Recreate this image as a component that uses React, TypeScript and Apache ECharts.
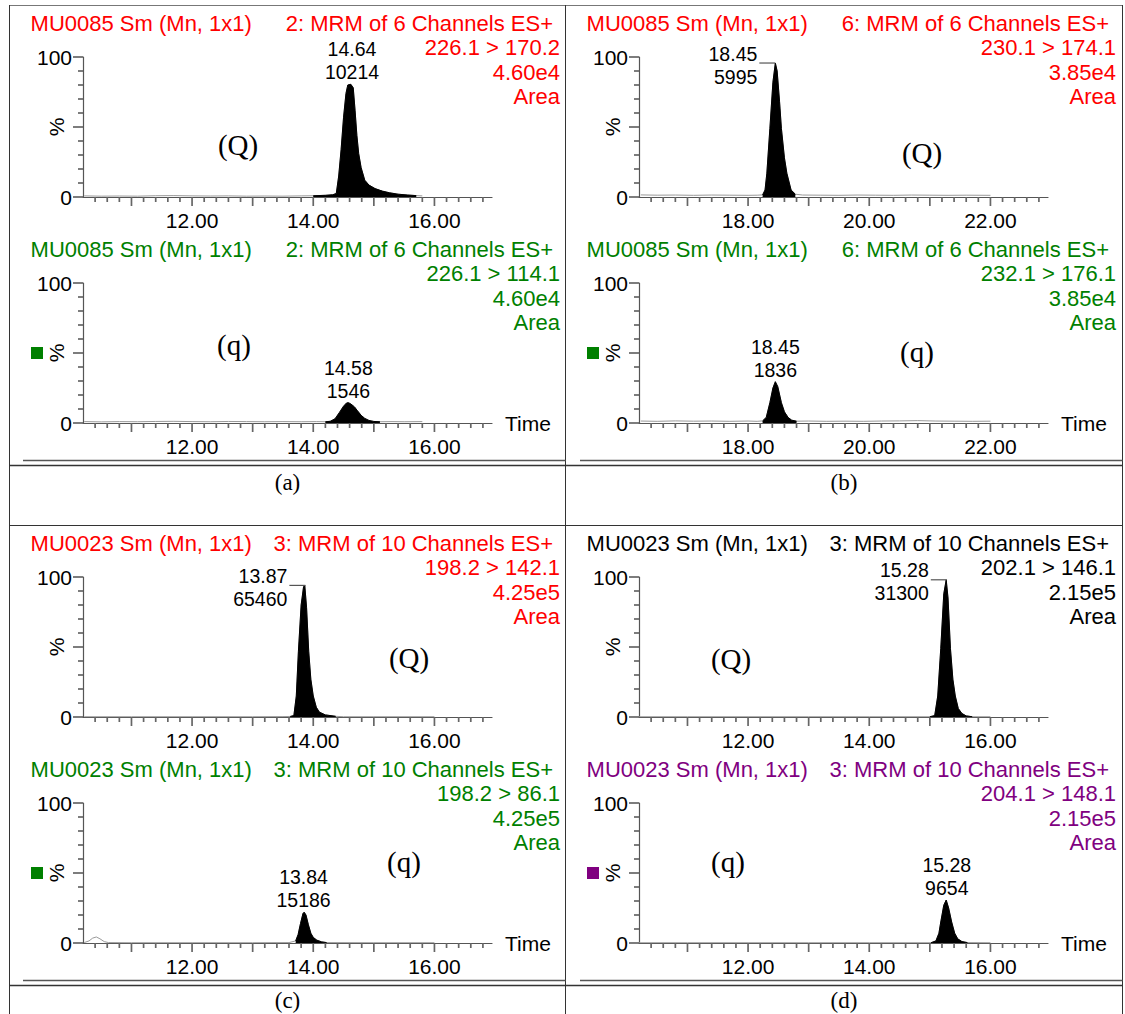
import React, { useEffect, useRef } from "react";
import * as echarts from "echarts";

type Pt = [number, number];

// ---------------- DATA ----------------
const RED = "#ff0000";
const GREEN = "#008000";
const PURPLE = "#800080";
const BLACK = "#000000";

// x-axis ranges (minutes)
const xRangeLow: [number, number] = [10.2, 16.95];
const xRangeHigh: [number, number] = [16.2, 22.95];
const majorTicksLow = [11, 12, 13, 14, 15, 16];
const majorTicksHigh = [17, 18, 19, 20, 21, 22];
const minorTicksLow = [
  10.4, 10.6, 10.8, 11.2, 11.4, 11.6, 11.8, 12.2, 12.4, 12.6, 12.8, 13.2, 13.4, 13.6, 13.8,
  14.2, 14.4, 14.6, 14.8, 15.2, 15.4, 15.6, 15.8, 16.2, 16.4, 16.6, 16.8,
];
const minorTicksHigh = [
  16.4, 16.6, 16.8, 17.2, 17.4, 17.6, 17.8, 18.2, 18.4, 18.6, 18.8, 19.2, 19.4, 19.6, 19.8,
  20.2, 20.4, 20.6, 20.8, 21.2, 21.4, 21.6, 21.8, 22.2, 22.4, 22.6, 22.8,
];
const tickLabelsLow = [12, 14, 16];
const tickLabelsHigh = [18, 20, 22];
const yMajorTicks = [0, 50, 100];
const yMinorTicks = [10, 20, 30, 40, 60, 70, 80, 90];
const yTickLabels = [0, 100];
const captions = ["(a)", "(b)", "(c)", "(d)"];

// (a) Q
const aQTitle = ["MU0085 Sm (Mn, 1x1)", "2: MRM of 6 Channels ES+", "226.1 > 170.2", "4.60e4", "Area"];
const aQTrace: Pt[] = [
  [10.22, 0.8], [10.5, 0.6], [10.8, 0.7], [11.1, 0.6], [11.4, 0.9], [11.7, 1.0], [12.0, 0.8], [12.3, 0.7],
  [12.6, 0.8], [12.9, 0.6], [13.2, 0.7], [13.5, 0.6], [13.8, 0.8], [14.0, 0.9], [14.2, 1.2], [14.32, 1.6],
  [14.38, 2.5], [14.42, 15], [14.46, 34], [14.5, 57], [14.54, 74], [14.57, 80], [14.62, 80.5], [14.66, 78],
  [14.69, 62], [14.72, 44], [14.75, 31], [14.79, 21], [14.85, 12], [14.92, 8.5], [15.02, 6], [15.14, 4.2],
  [15.26, 3], [15.4, 2], [15.56, 1.4], [15.7, 1], [15.8, 0.8],
];
const aQFill: [number, number] = [14.0, 15.7];
const aQPeak: [number, number, number] = [14.64, 80.5, 10214];

// (a) q
const aqTitle = ["MU0085 Sm (Mn, 1x1)", "2: MRM of 6 Channels ES+", "226.1 > 114.1", "4.60e4", "Area"];
const aqTrace: Pt[] = [
  [10.22, 1.0], [10.5, 0.8], [10.8, 1.0], [11.1, 0.9], [11.4, 1.1], [11.7, 1.2], [12.0, 1.0], [12.3, 0.9],
  [12.6, 1.1], [12.9, 1.0], [13.2, 0.9], [13.5, 1.0], [13.8, 0.9], [14.05, 1.0], [14.2, 0.9], [14.28, 1.2],
  [14.36, 3], [14.43, 7.4], [14.5, 12], [14.55, 14.3], [14.58, 14.5], [14.62, 13.6], [14.68, 11.5],
  [14.73, 8.7], [14.79, 5.5], [14.85, 3.3], [14.92, 1.8], [15.0, 1.1], [15.1, 0.9], [15.3, 1.0],
  [15.5, 0.9], [15.8, 1.0],
];
const aqFill: [number, number] = [14.2, 15.1];
const aqPeak: [number, number, number] = [14.58, 14.5, 1546];

// (b) Q
const bQTitle = ["MU0085 Sm (Mn, 1x1)", "6: MRM of 6 Channels ES+", "230.1 > 174.1", "3.85e4", "Area"];
const bQTrace: Pt[] = [
  [16.23, 1.5], [16.5, 1.3], [16.8, 1.4], [17.1, 1.2], [17.4, 1.4], [17.7, 1.3], [18.0, 1.2], [18.15, 1.3],
  [18.24, 1.5], [18.28, 5], [18.31, 17], [18.36, 49], [18.41, 82], [18.45, 95.7], [18.48, 90], [18.52, 68],
  [18.55, 49], [18.6, 28], [18.64, 17], [18.71, 5], [18.78, 2], [18.9, 1.4], [19.2, 1.3], [19.5, 1.2],
  [19.8, 1.4], [20.1, 1.3], [20.4, 1.2], [20.7, 1.4], [21.0, 1.3], [21.3, 1.2], [21.6, 1.3], [22.0, 1.2],
];
const bQFill: [number, number] = [18.2, 18.85];
const bQPeak: [number, number, number] = [18.45, 95.7, 5995];

// (b) q
const bqTitle = ["MU0085 Sm (Mn, 1x1)", "6: MRM of 6 Channels ES+", "232.1 > 176.1", "3.85e4", "Area"];
const bqTrace: Pt[] = [
  [16.23, 1.4], [16.5, 1.2], [16.8, 1.5], [17.1, 1.3], [17.4, 1.4], [17.7, 1.2], [18.0, 1.4], [18.15, 1.2],
  [18.24, 1.5], [18.3, 4], [18.36, 14.5], [18.41, 25], [18.45, 29.5], [18.49, 26], [18.55, 14.5], [18.6, 8],
  [18.66, 4], [18.72, 2], [18.8, 1.3], [19.0, 1.4], [19.3, 1.2], [19.6, 1.3], [19.9, 1.2], [20.2, 1.4],
  [20.5, 1.5], [20.8, 1.7], [21.1, 1.4], [21.4, 1.3], [21.7, 1.2], [22.0, 1.3],
];
const bqFill: [number, number] = [18.2, 18.85];
const bqPeak: [number, number, number] = [18.45, 29.5, 1836];

// (c) Q
const cQTitle = ["MU0023 Sm (Mn, 1x1)", "3: MRM of 10 Channels ES+", "198.2 > 142.1", "4.25e5", "Area"];
const cQTrace: Pt[] = [
  [10.22, 0.2], [11.0, 0.2], [12.0, 0.2], [13.0, 0.2], [13.5, 0.3], [13.62, 0.4], [13.68, 1], [13.72, 15],
  [13.755, 47], [13.8, 80], [13.84, 93], [13.86, 94], [13.89, 78], [13.925, 47], [13.96, 27], [14.0, 15],
  [14.05, 7], [14.1, 3.5], [14.2, 1.5], [14.37, 0.5], [14.5, 0.2], [15.0, 0.2], [16.0, 0.2],
];
const cQFill: [number, number] = [13.6, 14.45];
const cQPeak: [number, number, number] = [13.87, 94, 65460];

// (c) q
const cqTitle = ["MU0023 Sm (Mn, 1x1)", "3: MRM of 10 Channels ES+", "198.2 > 86.1", "4.25e5", "Area"];
const cqTrace: Pt[] = [
  [10.22, 0.3], [10.3, 1.5], [10.36, 3.5], [10.42, 4.3], [10.48, 3], [10.55, 1], [10.62, 0.3], [11.0, 0.2],
  [12.0, 0.2], [13.0, 0.2], [13.6, 0.3], [13.71, 1.5], [13.75, 6], [13.79, 14], [13.83, 21], [13.85, 22],
  [13.88, 20], [13.92, 13], [13.96, 7], [14.0, 4], [14.06, 2], [14.14, 0.8], [14.22, 0.3], [15.0, 0.2],
  [16.0, 0.2],
];
const cqFill: [number, number] = [13.65, 14.22];
const cqPeak: [number, number, number] = [13.84, 22, 15186];

// (d) Q
const dQTitle = ["MU0023 Sm (Mn, 1x1)", "3: MRM of 10 Channels ES+", "202.1 > 146.1", "2.15e5", "Area"];
const dQTrace: Pt[] = [
  [10.2, 0.2], [11.0, 0.2], [12.0, 0.2], [13.0, 0.2], [14.0, 0.2], [15.0, 0.2], [15.08, 1], [15.13, 15],
  [15.18, 49], [15.23, 88], [15.27, 98], [15.3, 85], [15.34, 49], [15.38, 27], [15.42, 15], [15.47, 6],
  [15.53, 2.5], [15.6, 0.8], [15.7, 0.2], [16.0, 0.2],
];
const dQFill: [number, number] = [15.0, 15.7];
const dQPeak: [number, number, number] = [15.28, 98, 31300];

// (d) q
const dqTitle = ["MU0023 Sm (Mn, 1x1)", "3: MRM of 10 Channels ES+", "204.1 > 148.1", "2.15e5", "Area"];
const dqTrace: Pt[] = [
  [10.2, 0.2], [11.0, 0.2], [12.0, 0.2], [13.0, 0.2], [14.0, 0.2], [15.02, 0.2], [15.1, 1.5], [15.15, 7],
  [15.18, 15], [15.23, 27], [15.27, 30.7], [15.31, 25], [15.36, 15], [15.41, 7], [15.46, 3], [15.53, 1],
  [15.62, 0.3], [16.0, 0.2],
];
const dqFill: [number, number] = [15.02, 15.62];
const dqPeak: [number, number, number] = [15.28, 30.7, 9654];

// ---------------- LAYOUT ----------------
const FONT = '"Liberation Sans", Arial, Helvetica, sans-serif';
const SERIF = '"Liberation Serif", "Times New Roman", serif';
const COL_X = [0, 556];
const ROW_Y = [0, 520];
const GRID_LEFT = 83;
const GRID_W = 409;
const GRID_H = 140;
const SUB_TOP = [57, 283];

type Panel = {
  title: string[];
  color: string;
  trace: Pt[];
  fill: [number, number];
  peak: [number, number, number];
  side: "top" | "left";
  tag: string;
  tagPos: [number, number];
  col: number;
  row: number;
  sub: number;
  high: boolean;
};

const panels: Panel[] = [
  { title: aQTitle, color: RED, trace: aQTrace, fill: aQFill, peak: aQPeak, side: "top", tag: "(Q)", tagPos: [238, 145], col: 0, row: 0, sub: 0, high: false },
  { title: aqTitle, color: GREEN, trace: aqTrace, fill: aqFill, peak: aqPeak, side: "top", tag: "(q)", tagPos: [234, 345], col: 0, row: 0, sub: 1, high: false },
  { title: bQTitle, color: RED, trace: bQTrace, fill: bQFill, peak: bQPeak, side: "left", tag: "(Q)", tagPos: [922, 153], col: 1, row: 0, sub: 0, high: true },
  { title: bqTitle, color: GREEN, trace: bqTrace, fill: bqFill, peak: bqPeak, side: "top", tag: "(q)", tagPos: [917, 352], col: 1, row: 0, sub: 1, high: true },
  { title: cQTitle, color: RED, trace: cQTrace, fill: cQFill, peak: cQPeak, side: "left", tag: "(Q)", tagPos: [409, 658], col: 0, row: 1, sub: 0, high: false },
  { title: cqTitle, color: GREEN, trace: cqTrace, fill: cqFill, peak: cqPeak, side: "top", tag: "(q)", tagPos: [404, 862], col: 0, row: 1, sub: 1, high: false },
  { title: dQTitle, color: BLACK, trace: dQTrace, fill: dQFill, peak: dQPeak, side: "left", tag: "(Q)", tagPos: [731, 659], col: 1, row: 1, sub: 0, high: false },
  { title: dqTitle, color: PURPLE, trace: dqTrace, fill: dqFill, peak: dqPeak, side: "top", tag: "(q)", tagPos: [728, 862], col: 1, row: 1, sub: 1, high: false },
];

const AXIS_COLOR = "#555";
const TICK_COLOR = "#666";

function buildOption() {
  const grid: any[] = [];
  const xAxis: any[] = [];
  const yAxis: any[] = [];
  const series: any[] = [];
  const graphic: any[] = [];

  panels.forEach((p, i) => {
    const left = GRID_LEFT + COL_X[p.col];
    const top = SUB_TOP[p.sub] + ROW_Y[p.row];
    grid.push({ left, top, width: GRID_W, height: GRID_H, containLabel: false });
    const range = p.high ? xRangeHigh : xRangeLow;
    const labels = p.high ? tickLabelsHigh : tickLabelsLow;
    const isQual = p.sub === 1;

    xAxis.push({
      type: "value",
      gridIndex: i,
      position: "bottom",
      min: range[0],
      max: range[1],
      axisLine: { show: true, onZero: false, lineStyle: { color: AXIS_COLOR, width: 1.2 } },
      axisTick: { show: false },
      axisLabel: {
        show: true,
        customValues: labels,
        formatter: (v: number) => v.toFixed(2),
        fontSize: 21,
        fontFamily: FONT,
        color: "#000",
        margin: 13,
      },
      splitLine: { show: false },
      name: isQual ? "Time" : "",
      nameLocation: "end",
      nameGap: 13,
      nameMoveOverlap: false,
      nameTextStyle: { fontSize: 21, fontFamily: FONT, color: "#000" },
    });
    yAxis.push({
      type: "value",
      gridIndex: i,
      position: "left",
      min: 0,
      max: 100,
      interval: 10,
      axisLine: { show: true, onZero: false, lineStyle: { color: AXIS_COLOR, width: 1.2 } },
      axisTick: { show: false },
      axisLabel: {
        show: true,
        formatter: (v: number) => (yTickLabels.indexOf(v) >= 0 ? String(v) : ""),
        fontSize: 21,
        fontFamily: FONT,
        color: "#000",
        margin: 11,
      },
      splitLine: { show: false },
      name: "%",
      nameLocation: "middle",
      nameRotate: 90,
      nameGap: 16,
      nameMoveOverlap: false,
      nameTextStyle: { fontSize: 21, fontFamily: FONT, color: "#000" },
    });

    const fillData = p.trace.filter((d) => d[0] >= p.fill[0] && d[0] <= p.fill[1]);
    const labelText = p.peak[0].toFixed(2) + "\n" + String(p.peak[2]);
    const markPoint =
      p.side === "top"
        ? {
            symbol: "circle",
            symbolSize: 1,
            itemStyle: { color: "rgba(0,0,0,0)" },
            label: {
              show: true,
              position: "top",
              distance: 0,
              formatter: () => labelText,
              fontSize: 19.5,
              lineHeight: 23,
              fontFamily: FONT,
              color: "#000",
            },
            data: [{ coord: [p.peak[0], p.peak[1]] }],
          }
        : {
            symbol: "rect",
            symbolSize: [16, 1.2],
            symbolOffset: [-8, 0],
            itemStyle: { color: "#555" },
            label: {
              show: true,
              position: "left",
              distance: 2,
              offset: [0, 2],
              formatter: () => labelText,
              fontSize: 19.5,
              lineHeight: 23,
              fontFamily: FONT,
              color: "#000",
              align: "right",
            },
            data: [{ coord: [p.peak[0], p.peak[1]] }],
          };

    series.push({
      type: "line",
      xAxisIndex: i,
      yAxisIndex: i,
      data: p.trace,
      showSymbol: false,
      symbol: "none",
      lineStyle: { color: "#999", width: 1 },
      silent: true,
      z: 2,
    });
    series.push({
      type: "line",
      xAxisIndex: i,
      yAxisIndex: i,
      data: fillData,
      showSymbol: false,
      symbol: "none",
      lineStyle: { color: "#000", width: 1 },
      areaStyle: { color: "#000", opacity: 1 },
      silent: true,
      z: 3,
      markPoint,
    });

    // title block
    const tY = top - 34;
    graphic.push({
      type: "text",
      x: left - 52.4,
      y: tY,
      silent: true,
      style: { text: p.title[0], fill: p.color, fontSize: 22, fontFamily: FONT, textAlign: "left", textVerticalAlign: "middle" },
    });
    graphic.push({
      type: "text",
      x: left + 470,
      y: tY,
      silent: true,
      style: { text: p.title[1], fill: p.color, fontSize: 22, fontFamily: FONT, textAlign: "right", textVerticalAlign: "middle" },
    });
    for (let k = 2; k < p.title.length; k++) {
      graphic.push({
        type: "text",
        x: left + 477,
        y: tY + 24.5 * (k - 1),
        silent: true,
        style: { text: p.title[k], fill: p.color, fontSize: 22, fontFamily: FONT, textAlign: "right", textVerticalAlign: "middle" },
      });
    }
    // (Q)/(q) tag
    graphic.push({
      type: "text",
      x: p.tagPos[0],
      y: p.tagPos[1],
      silent: true,
      style: { text: p.tag, fill: "#000", fontSize: 29, fontFamily: SERIF, textAlign: "center", textVerticalAlign: "middle" },
    });
    if (isQual) {
      graphic.push({
        type: "rect",
        silent: true,
        shape: { x: left - 52, y: top + GRID_H / 2 - 6, width: 12, height: 12 },
        style: { fill: p.color },
      });
    }
  });

  // table frame
  const L = 9.5, M = 565.5, R = 1122.5;
  const lineStyle = { stroke: "#333", lineWidth: 1 };
  const ln = (x1: number, y1: number, x2: number, y2: number, s: any = lineStyle) =>
    graphic.push({ type: "line", silent: true, shape: { x1, y1, x2, y2 }, style: s });
  ln(L, 5.5, R, 5.5, { stroke: "#777", lineWidth: 1 });
  ln(L, 5, L, 1014);
  ln(M, 5, M, 1014);
  ln(R, 5, R, 1014);
  [0, 520].forEach((dy) => {
    ln(L, 465.5 + dy, R, 465.5 + dy, { stroke: "#333", lineWidth: 1.5 });
    ln(23, 460.5 + dy, M, 460.5 + dy, { stroke: "#555", lineWidth: 1.5 });
    ln(580, 460.5 + dy, R, 460.5 + dy, { stroke: "#555", lineWidth: 1.5 });
  });
  ln(L, 525.5, R, 525.5);
  // captions
  captions.forEach((c, i) => {
    const col = i % 2;
    const row = Math.floor(i / 2);
    graphic.push({
      type: "text",
      x: col === 0 ? (L + M) / 2 : (M + R) / 2,
      y: 482 + ROW_Y[row] - (row === 1 ? 2 : 0),
      silent: true,
      style: { text: c, fill: "#000", fontSize: 23, fontFamily: SERIF, textAlign: "center", textVerticalAlign: "middle" },
    });
  });

  return {
    animation: false,
    backgroundColor: "#fff",
    grid,
    xAxis,
    yAxis,
    series,
    graphic: { elements: graphic },
  };
}

// Axis ticks placed through each grid's own scales (convertToPixel)
function buildTicks(chart: any): any[] {
  const out: any[] = [];
  const tick = (x1: number, y1: number, x2: number, y2: number) =>
    out.push({
      type: "line",
      silent: true,
      z: 50,
      shape: { x1, y1, x2, y2 },
      style: { stroke: TICK_COLOR, lineWidth: 1.7, lineCap: "butt" },
    });
  panels.forEach((p, i) => {
    const range = p.high ? xRangeHigh : xRangeLow;
    const majors = p.high ? majorTicksHigh : majorTicksLow;
    const minors = p.high ? minorTicksHigh : minorTicksLow;
    const finder = { xAxisIndex: i, yAxisIndex: i };
    const xt = (v: number, len: number) => {
      const pt = chart.convertToPixel(finder, [v, 0]);
      if (!pt) return;
      tick(pt[0], pt[1], pt[0], pt[1] + len);
    };
    const yt = (v: number, len: number) => {
      const pt = chart.convertToPixel(finder, [range[0], v]);
      if (!pt) return;
      tick(pt[0], pt[1], pt[0] - len, pt[1]);
    };
    majors.forEach((v) => xt(v, 9));
    minors.forEach((v) => xt(v, 5));
    yMajorTicks.forEach((v) => yt(v, 10));
    yMinorTicks.forEach((v) => yt(v, 5));
  });
  return out;
}

export default function App() {
  const ref = useRef<HTMLDivElement>(null);
  useEffect(() => {
    if (!ref.current) return;
    const chart = echarts.init(ref.current, undefined, { renderer: "svg" });
    const option: any = buildOption();
    chart.setOption(option);
    const ticks = buildTicks(chart);
    chart.setOption({ graphic: { elements: option.graphic.elements.concat(ticks) } });
    return () => chart.dispose();
  }, []);
  return (
    <div
      ref={ref}
      style={{ position: "absolute", left: 0, top: 0, width: 1125, height: 1014, background: "#fff" }}
    />
  );
}
